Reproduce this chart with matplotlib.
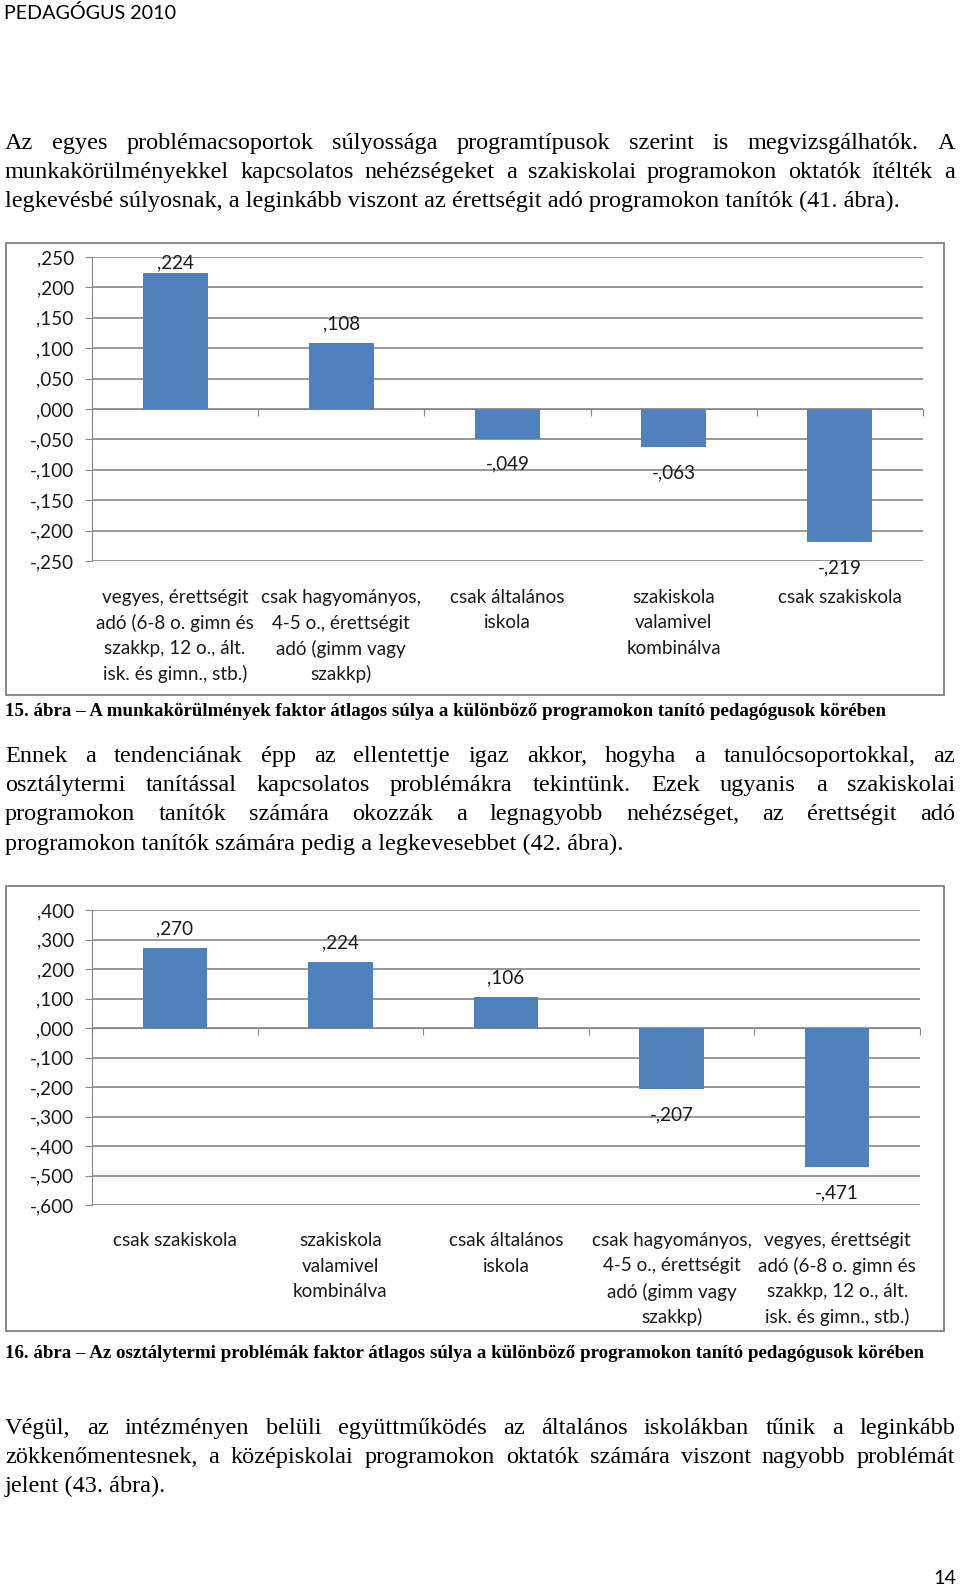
import matplotlib.pyplot as plt
import numpy as np
from matplotlib.patches import Rectangle

# page size in pixels (dpi 100)
W, H = 960, 1585

# données des deux diagrammes
cats1 = ["vegyes, érettségit\nadó (6-8 o. gimn és\nszakkp, 12 o., ált.\nisk. és gimn., stb.)",
         "csak hagyományos,\n4-5 o., érettségit\nadó (gimm vagy\nszakkp)",
         "csak általános\niskola",
         "szakiskola\nvalamivel\nkombinálva",
         "csak szakiskola"]
vals1 = [0.224, 0.108, -0.049, -0.063, -0.219]

cats2 = ["csak szakiskola",
         "szakiskola\nvalamivel\nkombinálva",
         "csak általános\niskola",
         "csak hagyományos,\n4-5 o., érettségit\nadó (gimm vagy\nszakkp)",
         "vegyes, érettségit\nadó (6-8 o. gimn és\nszakkp, 12 o., ált.\nisk. és gimn., stb.)"]
vals2 = [0.270, 0.224, 0.106, -0.207, -0.471]

header = "PEDAGÓGUS 2010"
page_no = "14"

para1 = ["Az egyes problémacsoportok súlyossága programtípusok szerint is megvizsgálhatók. A",
         "munkakörülményekkel kapcsolatos nehézségeket a szakiskolai programokon oktatók ítélték a",
         "legkevésbé súlyosnak, a leginkább viszont az érettségit adó programokon tanítók (41. ábra)."]
para2 = ["Ennek a tendenciának épp az ellentettje igaz akkor, hogyha a tanulócsoportokkal, az",
         "osztálytermi tanítással kapcsolatos problémákra tekintünk. Ezek ugyanis a szakiskolai",
         "programokon tanítók számára okozzák a legnagyobb nehézséget, az érettségit adó",
         "programokon tanítók számára pedig a legkevesebbet (42. ábra)."]
para3 = ["Végül, az intézményen belüli együttműködés az általános iskolákban tűnik a leginkább",
         "zökkenőmentesnek, a középiskolai programokon oktatók számára viszont nagyobb problémát",
         "jelent (43. ábra)."]

caption1 = "15. ábra – A munkakörülmények faktor átlagos súlya a különböző programokon tanító pedagógusok körében"
caption2 = "16. ábra – Az osztálytermi problémák faktor átlagos súlya a különböző programokon tanító pedagógusok körében"

BLUE = '#4F81BD'
GRID = '#868686'
SERIF = 'Liberation Serif'
SANS = 'Lato'
CSIZE = 13.6  # taille du texte des diagrammes

fig = plt.figure(figsize=(W / 100, H / 100), dpi=100)
renderer = fig.canvas.get_renderer()


def fx(px):
    return px / W


def fy(py):  # pixel y measured from the top
    return 1 - py / H


def largeur(s, size, **kw):  # largeur d'un texte en pixels
    t = fig.text(0, 0, s, fontsize=size, **kw)
    w = t.get_window_extent(renderer).width
    t.remove()
    return w


def fit_size(s, target, **kw):
    return 20 * target / largeur(s, 20, **kw)


def fmt(v):
    s = f"{abs(v):.3f}"[1:].replace('.', ',')
    return ('-' + s) if v < -1e-9 else s


def paragraphe(lines, y0, dy, size, x0=5, x1=955):
    # texte justifié, dernière ligne alignée à gauche
    # y0 = milieu de la ligne ; on place les mots sur la ligne de base
    em = size * 100 / 72
    for k, line in enumerate(lines):
        y = fy(y0 + k * dy + 0.29 * em)
        if k == len(lines) - 1:
            fig.text(fx(x0), y, line, fontsize=size, family=SERIF, va='baseline')
            continue
        words = line.split()
        ws = [largeur(w, size, family=SERIF) for w in words]
        gap = (x1 - x0 - sum(ws)) / (len(words) - 1)
        x = x0
        for w, wl in zip(words, ws):
            fig.text(fx(x), y, w, fontsize=size, family=SERIF, va='baseline')
            x += wl + gap


def diagramme(frame, ax_px, ylim, step, cats, vals, lab_y):
    fx0, fy0, fx1, fy1 = frame
    fig.add_artist(Rectangle((fx(fx0), fy(fy1)), (fx1 - fx0) / W, (fy1 - fy0) / H,
                             fill=False, ec='#888888', lw=1.4, transform=fig.transFigure))
    x0, ytop, x1, ybot = ax_px
    ax = fig.add_axes([fx(x0), fy(ybot), (x1 - x0) / W, (ybot - ytop) / H])
    n = len(vals)
    ax.bar(range(n), vals, width=0.39, color=BLUE, zorder=3)
    ax.set_xlim(-0.5, n - 0.5)
    ax.set_ylim(*ylim)
    ticks = np.arange(ylim[0], ylim[1] + step / 2, step)
    ax.set_yticks(ticks)
    ax.set_yticklabels([fmt(t) for t in ticks], family=SANS, fontsize=CSIZE, color='#1a1a1a')
    ax.set_xticks(np.arange(-0.5, n, 1))
    ax.set_xticklabels([])
    ax.yaxis.grid(True, color=GRID, lw=1.2)
    ax.set_axisbelow(True)
    for s in ['top', 'right']:
        ax.spines[s].set_visible(False)
    ax.spines['left'].set_color(GRID)
    ax.spines['bottom'].set_position(('data', 0))
    ax.spines['bottom'].set_color(GRID)
    ax.tick_params(axis='y', direction='out', length=5, color=GRID, pad=8.2)
    ax.tick_params(axis='x', direction='out', length=5, color=GRID)

    ppu = (ybot - ytop) / (ylim[1] - ylim[0])  # pixels par unité
    for i, v in enumerate(vals):
        if v >= 0:
            yl = min(v + 19 / ppu, ylim[1] - 6 / ppu)  # étiquette gardée dans la zone de tracé
        else:
            yl = v - 25.5 / ppu
        ax.text(i, yl, fmt(v), ha='center', va='center', family=SANS,
                fontsize=CSIZE, color='#1a1a1a')

    # étiquettes des catégories, ligne par ligne
    for i, c in enumerate(cats):
        xp = ax.transData.transform((i, 0))[0]
        for k, line in enumerate(c.split('\n')):
            fig.text(xp / W, fy(lab_y + k * 25.5), line, ha='center', va='center',
                     family=SANS, fontsize=CSIZE, color='#1a1a1a')
    return ax


# en-tête et numéro de page
hsize = fit_size(header, 172, family=SANS)
fig.text(fx(4), fy(13), header, fontsize=hsize, family=SANS, va='center')
fig.text(fx(956), fy(1579), page_no, fontsize=hsize, family=SANS, va='center', ha='right')

# taille du texte courant calée sur la dernière ligne du premier paragraphe
body = fit_size(para1[-1], 893, family=SERIF)
paragraphe(para1, 142, 29, body)
paragraphe(para2, 755, 29.2, body)
paragraphe(para3, 1427, 29, body)

capsize = fit_size(caption1, 880, family=SERIF, weight='bold')
fig.text(fx(5), fy(712), caption1, fontsize=capsize, family=SERIF, weight='bold', va='center')
fig.text(fx(5), fy(1353), caption2, fontsize=capsize, family=SERIF, weight='bold', va='center')

diagramme((6, 243, 944, 695), (92, 257, 923, 561), (-0.25, 0.25), 0.05, cats1, vals1, 597.5)
diagramme((6, 886, 944, 1331), (92, 910, 920, 1205), (-0.6, 0.4), 0.1, cats2, vals2, 1240.5)

fig.savefig('out.png', dpi=100)
